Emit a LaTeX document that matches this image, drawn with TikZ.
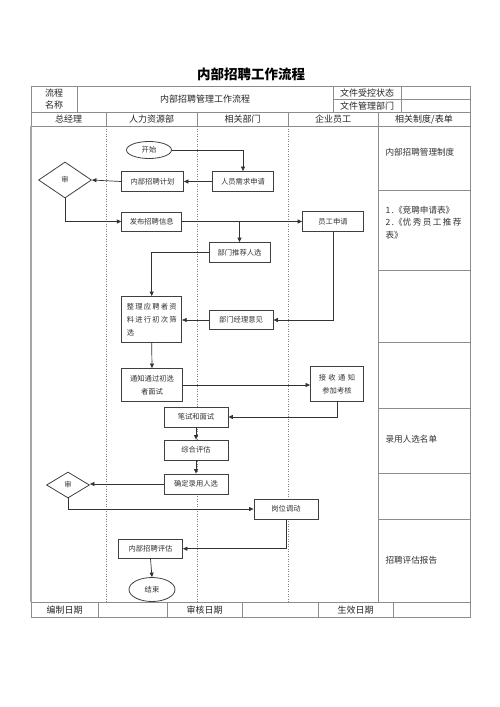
\documentclass[tikz,border=0pt]{standalone}
\usepackage{fontspec}
\setmainfont{Noto Sans CJK SC}
\usetikzlibrary{shapes.geometric,arrows.meta}
\begin{document}
\begin{tikzpicture}[x=1pt,y=-1pt,
  tline/.style={draw=black!45, line width=0.8pt},
  lane/.style={draw=black!50, line width=0.5pt, dash pattern=on 1pt off 1.5pt},
  pbox/.style={draw=black!75, line width=0.8pt, fill=white, inner sep=1pt, font=\fontsize{7.3}{13}\selectfont, text=black!80},
  term/.style={ellipse, draw=black!75, line width=0.8pt, fill=white, inner sep=0pt, font=\fontsize{7.3}{9}\selectfont, text=black!80},
  dec/.style={diamond, draw=black!75, line width=0.8pt, fill=white, inner sep=0pt, font=\fontsize{7.3}{9}\selectfont, text=black!80},
  arr/.style={draw=black!80, line width=0.7pt, -{Triangle[length=4.5pt,width=4pt]}},
  hd/.style={font=\fontsize{9}{11}\selectfont, text=black!85},
  rc/.style={font=\fontsize{8.6}{13}\selectfont, text=black!80, anchor=west}
]
\useasboundingbox[fill=white] (0,0) rectangle (500,707);

% title
\node[font=\fontsize{13.5}{16}\selectfont\bfseries] (title) at (251,74) {内部招聘工作流程};

% table frame
\draw[tline] (31,86) rectangle (470,617);
\draw[tline] (31,112.5) -- (470,112.5);
\draw[tline] (31,126) -- (470,126);
\draw[tline] (333,99.5) -- (470,99.5);
\draw[tline] (77,86) -- (77,112.5);
\draw[tline] (333,86) -- (333,112.5);
\draw[tline] (401,86) -- (401,112.5);
\draw[tline] (106,112.5) -- (106,126);
\draw[tline] (197,112.5) -- (197,126);
\draw[tline] (288,112.5) -- (288,126);
\draw[tline] (378,112.5) -- (378,602);
\draw[tline] (31,602) -- (470,602);
\foreach \xx in {98,167,242,318,393} \draw[tline] (\xx,602) -- (\xx,617);
\foreach \yy in {190.5,270,342,408,473,519} \draw[tline] (378,\yy) -- (470,\yy);
\draw[draw=black!35, line width=1.6pt] (31,126) -- (31,602);

% lanes
\draw[lane] (106,126) -- (106,602);
\draw[lane] (197,126) -- (197,602);
\draw[lane] (288,126) -- (288,602);

% header texts
\node[hd, align=center, font=\fontsize{9}{12.5}\selectfont] (h1) at (54,99) {流程\\名称};
\node[hd] (h2) at (205,99.5) {内部招聘管理工作流程};
\node[hd] (h3) at (367,93) {文件受控状态};
\node[hd] (h4) at (367,106) {文件管理部门};
\node[hd] (l1) at (68.5,119.5) {总经理};
\node[hd] (l2) at (151.5,119.5) {人力资源部};
\node[hd] (l3) at (242.5,119.5) {相关部门};
\node[hd] (l4) at (333,119.5) {企业员工};
\node[hd] (l5) at (424,119.5) {相关制度/表单};
\node[hd] (f1) at (64.5,610) {编制日期};
\node[hd] (f2) at (204.5,610) {审核日期};
\node[hd] (f3) at (355.5,610) {生效日期};

% right column
\node[rc] (r1) at (382,152) {内部招聘管理制度};
\node[rc] (r2) at (382,210) {1\,.《竞聘申请表》};
\node[rc] (r3) at (382,222.5) {2\,.《优\,秀\,员\,工\,推\,荐};
\node[rc] (r4) at (382,235) {表》};
\node[rc] (r5) at (382,439) {录用人选名单};
\node[rc] (r6) at (382,560) {招聘评估报告};

% nodes
\node[term, minimum width=45, minimum height=17] (start) at (149,150) {开始};
\node[pbox, minimum width=61, minimum height=20] (req) at (243,181.5) {人员需求申请};
\node[pbox, minimum width=62, minimum height=20] (plan) at (152.5,181.5) {内部招聘计划};
\node[dec, minimum width=53, minimum height=36] (d1) at (65,180) {审};
\node[pbox, minimum width=60, minimum height=19] (pub) at (151.7,221.5) {发布招聘信息};
\node[pbox, minimum width=61, minimum height=20] (emp) at (333,221.5) {员工申请};
\node[pbox, minimum width=61, minimum height=20] (rec) at (239.5,252.5) {部门推荐人选};
\node[pbox, minimum width=60, minimum height=46, align=left] (sort) at (151.7,319.5) {整\,理\,应\,聘\,者\,资\\料\,进\,行\,初\,次\,筛\\选};
\node[pbox, minimum width=64, minimum height=19] (mgr) at (241,320) {部门经理意见};
\node[pbox, minimum width=61, minimum height=33, align=center] (notify) at (152,385) {通知通过初选\\者面试};
\node[pbox, minimum width=53, minimum height=35, align=center] (recv) at (337,384) {接\,\,收\,\,通\,\,知\\参加考核};
\node[pbox, minimum width=64, minimum height=20] (exam) at (196,417) {笔试和面试};
\node[pbox, minimum width=64, minimum height=20] (eval) at (196,450) {综合评估};
\node[pbox, minimum width=64, minimum height=20] (decide) at (196,484) {确定录用人选};
\node[dec, minimum width=43, minimum height=26] (d2) at (68,485) {审};
\node[pbox, minimum width=64, minimum height=20] (transfer) at (286,509) {岗位调动};
\node[pbox, minimum width=64, minimum height=19] (assess) at (150.5,548.7) {内部招聘评估};
\node[term, minimum width=46, minimum height=24] (end) at (152,589.5) {结束};

% connectors
\draw[arr] (start.east) -| (req.north);
\draw[arr] (req.west) -- (plan.east);
\draw[arr] (plan.west) -- (d1.east);
\draw[arr] (d1.south) |- (pub.west);
\draw[arr] (pub.east) -- (emp.west);
\draw[arr] (pub.east -| rec.north) -- (rec.north);
\draw[arr] (rec.west) -| (sort.north);
\draw[arr] (emp.south) |- (mgr.east);
\draw[arr] (mgr.west) -- (mgr.west -| sort.east);
\draw[arr] (sort.south) -- (notify.north);
\draw[arr] (notify.east) -- (notify.east -| recv.west);
\draw[arr] (recv.south) |- (exam.east);
\draw[arr] (exam.south) -- (eval.north);
\draw[arr] (eval.south) -- (decide.north);
\draw[arr] (decide.west) -- (decide.west -| d2.east);
\draw[arr] (d2.south) |- (transfer.west);
\draw[arr] (transfer.south) |- (assess.east);
\draw[arr] (assess.south) -- (end.north);
\end{tikzpicture}
\end{document}
